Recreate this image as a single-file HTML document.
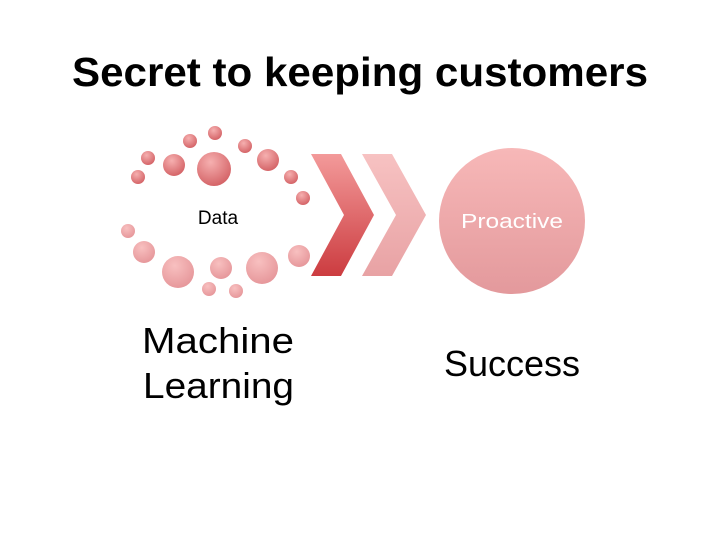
<!DOCTYPE html>
<html><head><style>
body{margin:0;background:#fff;width:720px;height:540px;overflow:hidden;font-family:"Liberation Sans",sans-serif}
</style></head><body>
<svg width="720" height="540" xmlns="http://www.w3.org/2000/svg">
<defs>
<radialGradient id="b" cx="0.4" cy="0.3" r="0.8"><stop offset="0" stop-color="#f6b0b0"/><stop offset="1" stop-color="#d05a5e"/></radialGradient>
<radialGradient id="b2" cx="0.4" cy="0.3" r="0.8"><stop offset="0" stop-color="#f8c0c0"/><stop offset="1" stop-color="#e49296"/></radialGradient>
<linearGradient id="c1" x1="0" y1="0" x2="0" y2="1"><stop offset="0" stop-color="#f39a9a"/><stop offset="1" stop-color="#cc3c40"/></linearGradient>
<linearGradient id="c2" x1="0" y1="0" x2="0" y2="1"><stop offset="0" stop-color="#f7c2c2"/><stop offset="1" stop-color="#e8a2a4"/></linearGradient>
<linearGradient id="p" x1="0" y1="0" x2="0" y2="1"><stop offset="0" stop-color="#f7b8b8"/><stop offset="1" stop-color="#e3999c"/></linearGradient>
</defs>
<text x="72" y="86" font-size="41" font-weight="bold" fill="#000" textLength="576" lengthAdjust="spacingAndGlyphs">Secret to keeping customers</text>
<g fill="url(#b)">
<circle cx="215" cy="133" r="7"/><circle cx="190" cy="141" r="7"/><circle cx="148" cy="158" r="7"/><circle cx="138" cy="177" r="7"/>
<circle cx="174" cy="165" r="11"/><circle cx="214" cy="169" r="17"/><circle cx="245" cy="146" r="7"/><circle cx="268" cy="160" r="11"/>
<circle cx="291" cy="177" r="7"/><circle cx="303" cy="198" r="7"/>
</g>
<g fill="url(#b2)">
<circle cx="128" cy="231" r="7"/><circle cx="144" cy="252" r="11"/><circle cx="178" cy="272" r="16"/><circle cx="221" cy="268" r="11"/>
<circle cx="262" cy="268" r="16"/><circle cx="299" cy="256" r="11"/><circle cx="209" cy="289" r="7"/><circle cx="236" cy="291" r="7"/>
</g>
<text x="218" y="224" text-anchor="middle" font-size="19" fill="#000">Data</text>
<polygon points="311,154 341,154 374,215 341,276 311,276 344,215" fill="url(#c1)"/>
<polygon points="362,154 392,154 426,215 392,276 362,276 396,215" fill="url(#c2)"/>
<circle cx="512" cy="221" r="73" fill="url(#p)"/>
<text x="461" y="228" font-size="20" fill="#fff" textLength="102" lengthAdjust="spacingAndGlyphs">Proactive</text>
<text x="142" y="353" font-size="36" fill="#000" textLength="152" lengthAdjust="spacingAndGlyphs">Machine</text>
<text x="143" y="398" font-size="36" fill="#000" textLength="151" lengthAdjust="spacingAndGlyphs">Learning</text>
<text x="512" y="376" text-anchor="middle" font-size="36" fill="#000">Success</text>
</svg>
</body></html>
